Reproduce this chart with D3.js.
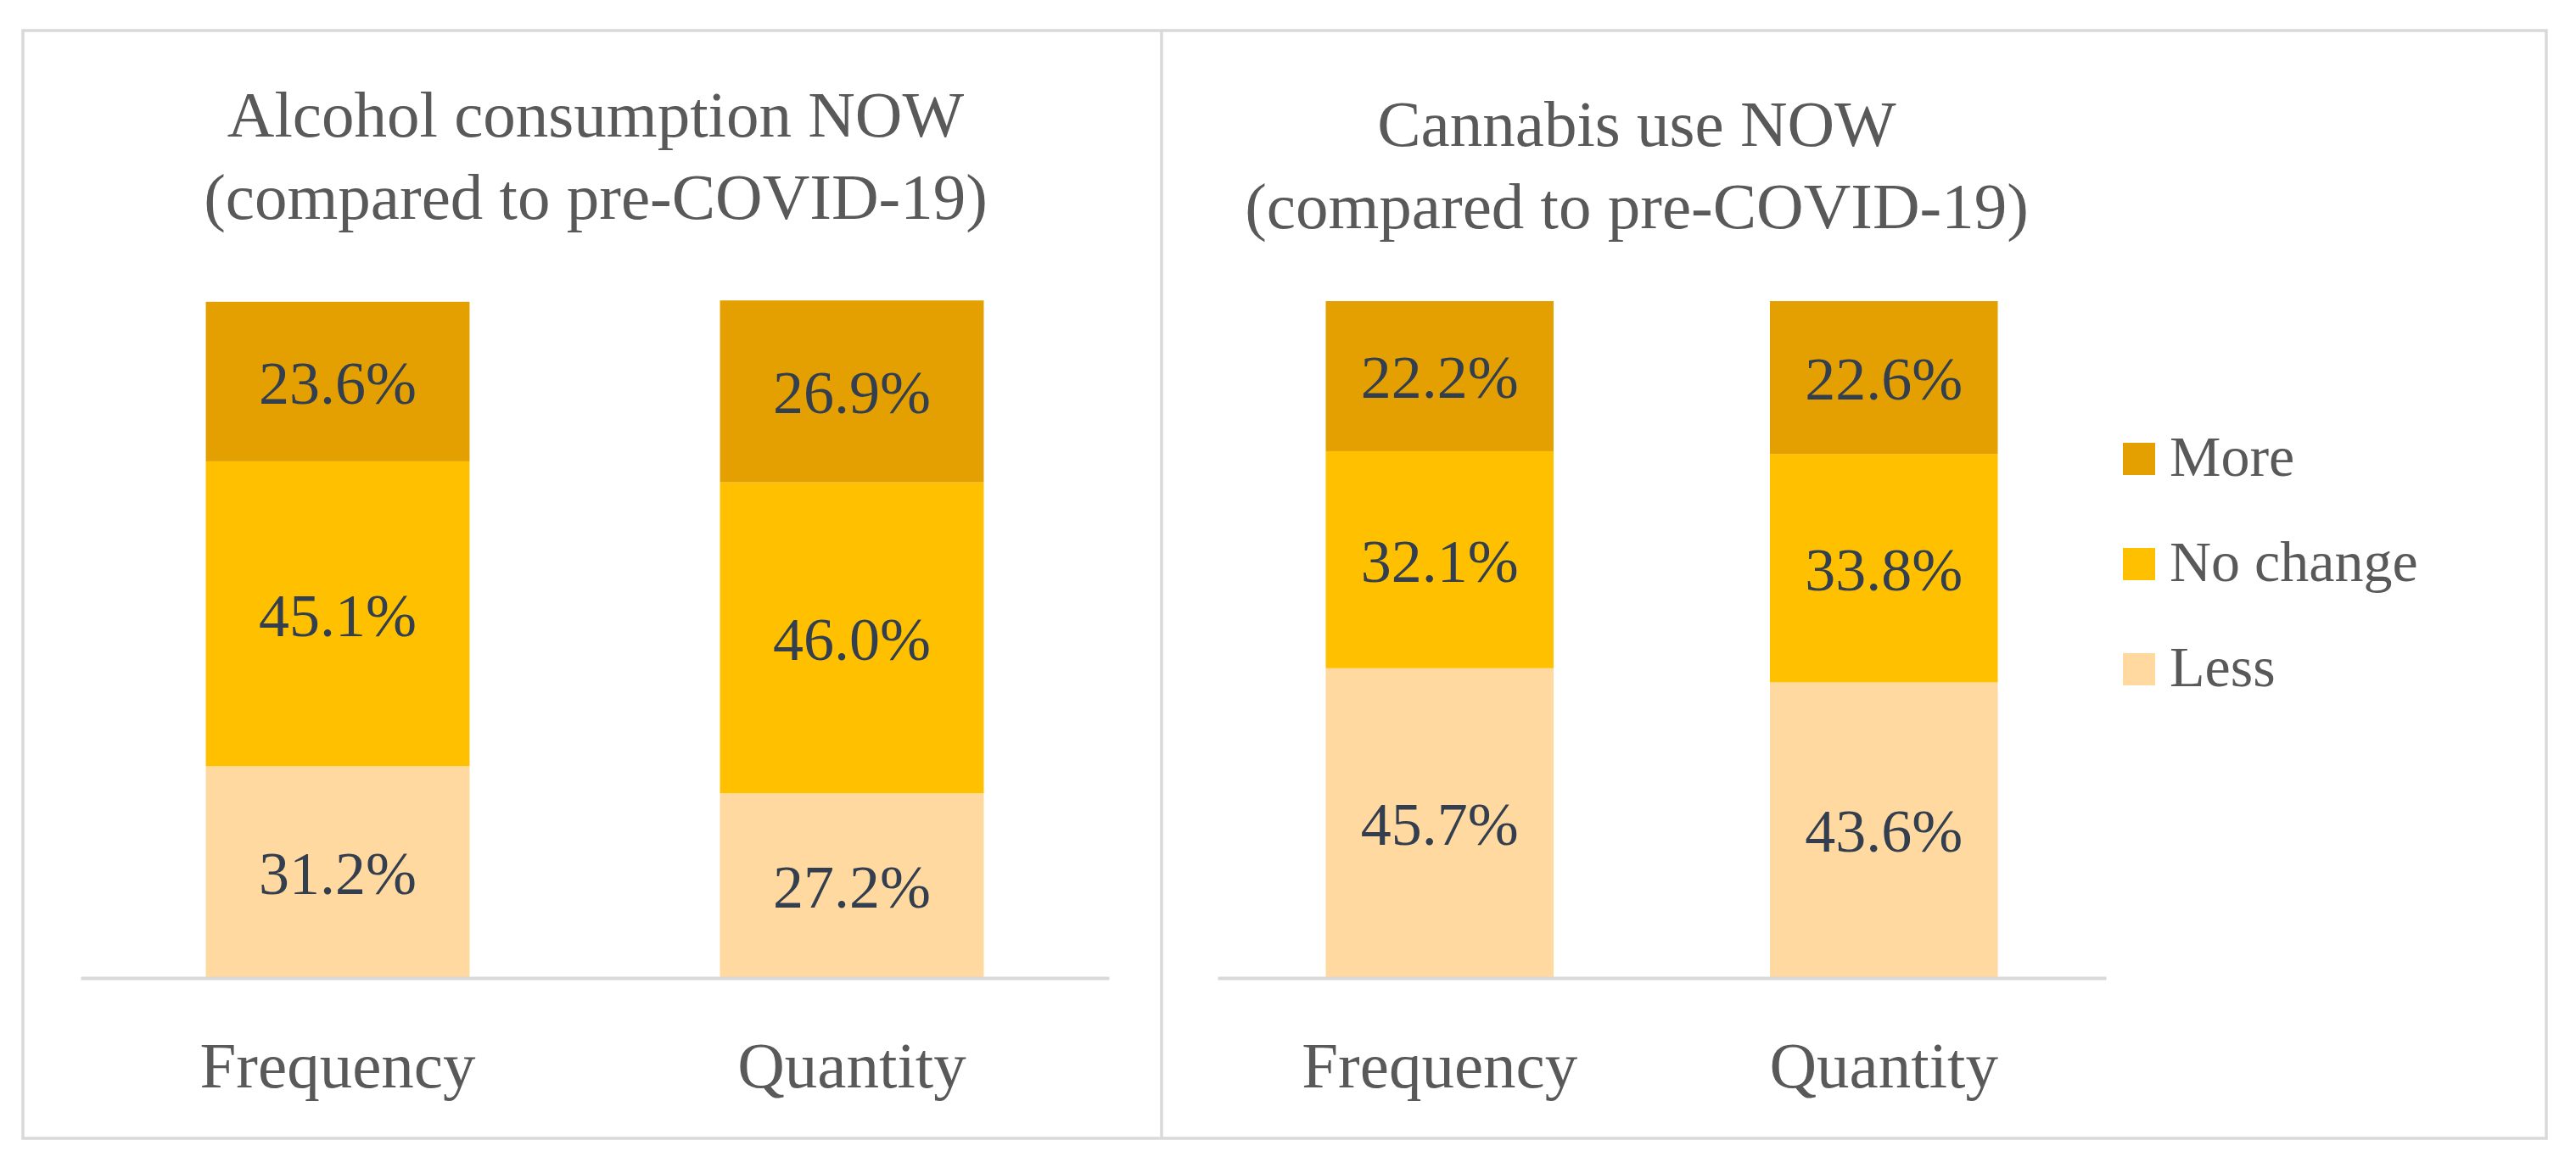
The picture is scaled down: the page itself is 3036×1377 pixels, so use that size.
<!DOCTYPE html>
<html>
<head>
<meta charset="utf-8">
<script src="https://cdn.jsdelivr.net/npm/d3@7"></script>
<style>
  html, body { margin: 0; padding: 0; background: #ffffff; }
  svg { display: block; }
  text { font-family: "Liberation Serif", "Times New Roman", serif; }
</style>
</head>
<body>
<svg id="chart" width="3036" height="1377"></svg>
<script>
// ---- data ----
const categories = ["Frequency", "Quantity"];
const seriesNames = ["Less", "No change", "More"];
const legendOrder = ["More", "No change", "Less"];
const seriesColors = ["#FFD99F", "#FFC000", "#E3A000"];

const alcoholTitle = ["Alcohol consumption NOW", "(compared to pre-COVID-19)"];
const alcoholLess = [31.2, 27.2];
const alcoholNoChange = [45.1, 46.0];
const alcoholMore = [23.6, 26.9];

const cannabisTitle = ["Cannabis use NOW", "(compared to pre-COVID-19)"];
const cannabisLess = [45.7, 43.6];
const cannabisNoChange = [32.1, 33.8];
const cannabisMore = [22.2, 22.6];

// ---- layout ----
const svg = d3.select("#chart");
const W = 3036, H = 1377;
svg.append("rect").attr("x", 0).attr("y", 0).attr("width", W).attr("height", H).attr("fill", "#fff");

const borderColor = "#d9d9d9";
svg.append("rect")
  .attr("x", 27).attr("y", 36).attr("width", 2974).attr("height", 1306)
  .attr("fill", "none").attr("stroke", borderColor).attr("stroke-width", 3.5);
svg.append("line")
  .attr("x1", 1369).attr("x2", 1369).attr("y1", 36).attr("y2", 1342)
  .attr("stroke", borderColor).attr("stroke-width", 3.5);

const color = d3.scaleOrdinal().domain(seriesNames).range(seriesColors);
const y = d3.scaleLinear().domain([0, 100]).range([1152, 355]);

function buildRows(less, noChange, more) {
  return categories.map((c, i) => ({ category: c, "Less": less[i], "No change": noChange[i], "More": more[i] }));
}

const panels = [
  { title: alcoholTitle, rows: buildRows(alcoholLess, alcoholNoChange, alcoholMore),
    range: [95, 1307], titleX: 702, titleY: [161, 258] },
  { title: cannabisTitle, rows: buildRows(cannabisLess, cannabisNoChange, cannabisMore),
    range: [1435, 2482], titleX: 1929, titleY: [172, 269] }
];

const stack = d3.stack().keys(seriesNames);

panels.forEach(p => {
  const g = svg.append("g");
  const x = d3.scaleBand().domain(categories).range(p.range)
    .paddingInner(0.487).paddingOuter(0.2435);

  // title
  p.title.forEach((t, i) => {
    g.append("text")
      .attr("x", p.titleX).attr("y", p.titleY[i])
      .attr("text-anchor", "middle")
      .attr("font-size", 77).attr("fill", "#595959")
      .text(t);
  });

  const stacked = stack(p.rows);
  const layers = g.selectAll("g.layer").data(stacked).join("g")
    .attr("class", "layer").attr("fill", d => color(d.key));
  layers.selectAll("rect").data(d => d).join("rect")
    .attr("x", d => x(d.data.category))
    .attr("width", x.bandwidth())
    .attr("y", d => y(d[1]))
    .attr("height", d => y(d[0]) - y(d[1]));

  // value labels
  stacked.forEach(layer => {
    g.selectAll(null).data(layer).join("text")
      .attr("x", d => x(d.data.category) + x.bandwidth() / 2)
      .attr("y", d => (y(d[0]) + y(d[1])) / 2)
      .attr("dy", "0.36em")
      .attr("text-anchor", "middle")
      .attr("font-size", 72)
      .attr("fill", "#333F4F")
      .text(d => (d[1] - d[0]).toFixed(1) + "%");
  });

  // x axis
  const axis = g.append("g").attr("transform", "translate(0,1153)")
    .call(d3.axisBottom(x).tickSize(0).tickSizeOuter(0));
  axis.select(".domain").attr("stroke", borderColor).attr("stroke-width", 4);
  axis.selectAll(".tick text")
    .attr("y", 129).attr("dy", 0)
    .attr("font-size", 77)
    .attr("font-family", "Liberation Serif, serif")
    .attr("fill", "#595959");
});

// legend
const legend = svg.append("g");
legendOrder.forEach((name, i) => {
  const gy = 522 + i * 124;
  legend.append("rect")
    .attr("x", 2502).attr("y", gy).attr("width", 38).attr("height", 38)
    .attr("fill", color(name));
  legend.append("text")
    .attr("x", 2557).attr("y", gy + 39)
    .attr("font-size", 68).attr("fill", "#595959")
    .text(name);
});
</script>
</body>
</html>
